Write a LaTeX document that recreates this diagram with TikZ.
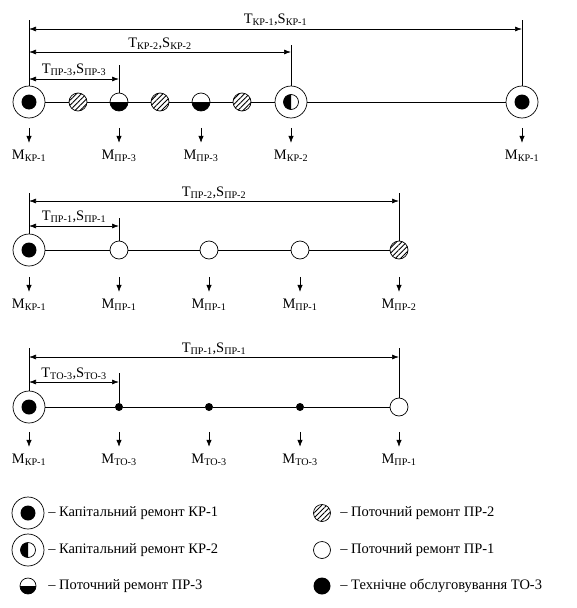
\documentclass[tikz,border=0pt]{standalone}
\usepackage{fontspec}
\setmainfont{Liberation Serif}
\usetikzlibrary{arrows.meta, patterns.meta}

\tikzstyle{kapone} = [circle, draw, fill=white, minimum size=32pt, inner sep=0pt,
path picture={\fill[black] (path picture bounding box.center) circle (7.5pt);}]
\tikzstyle{kaptwo} = [circle, draw, fill=white, minimum size=32pt, inner sep=0pt,
path picture={\draw (path picture bounding box.center) circle (7.5pt);
\fill[black] (path picture bounding box.center) ++(0,7.5pt) arc (90:270:7.5pt) -- cycle;}]
\tikzstyle{potthree} = [circle, draw, fill=white, minimum size=18pt, inner sep=0pt,
path picture={\fill[black] (path picture bounding box.west) rectangle (path picture bounding box.south east);}]
\tikzstyle{pottwo} = [circle, draw, minimum size=18pt, inner sep=0pt,
preaction={fill=white},
pattern={Lines[angle=45,distance=3.6pt,line width=0.9pt]}]
\tikzstyle{potone} = [circle, draw, fill=white, minimum size=18pt, inner sep=0pt]
\tikzstyle{tothree} = [circle, fill=black, minimum size=8pt, inner sep=0pt]
\tikzstyle{dimarrow} = [{Latex[length=7pt,width=5pt]}-{Latex[length=7pt,width=5pt]}]
\tikzstyle{downarrow} = [-{Latex[length=7pt,width=5.5pt]}]
\tikzstyle{lbl} = [inner sep=1pt, font=\fontsize{14.5}{16}\selectfont]

\begin{document}
\begin{tikzpicture}[x=1pt, y=1pt, line width=0.7pt]
\useasboundingbox (0,0) rectangle (577,-608);

% first line: KR-1 ... KR-2 ... KR-1
\node (a1) [kapone] at (29,-102) {};
\node (a2) [pottwo] at (78,-102) {};
\node (a3) [potthree] at (119,-102) {};
\node (a4) [pottwo] at (160,-102) {};
\node (a5) [potthree] at (201,-102) {};
\node (a6) [pottwo] at (242,-102) {};
\node (a7) [kaptwo] at (291,-102) {};
\node (a8) [kapone] at (522,-102) {};
\foreach \i [count=\j from 2] in {1,...,7}
  \draw (a\i) -- (a\j);

\coordinate (ta1) at (29,-20);
\coordinate (ta3) at (119,-65);
\coordinate (ta7) at (291,-45);
\coordinate (ta8) at (522,-20);
\draw (a1) -- (ta1);
\draw (a3) -- (ta3);
\draw (a7) -- (ta7);
\draw (a8) -- (ta8);

\coordinate (da1) at (29,-29);  \coordinate (da8) at (522,-29);
\coordinate (db1) at (29,-52);  \coordinate (db7) at (291,-52);
\coordinate (dc1) at (29,-79);  \coordinate (dc3) at (119,-79);
\draw [dimarrow] (da1) -- node[lbl, above=2pt] (la1) {T\textsubscript{КР-1},S\textsubscript{КР-1}} (da8);
\draw [dimarrow] (db1) -- node[lbl, above=1pt] (la2) {T\textsubscript{КР-2},S\textsubscript{КР-2}} (db7);
\draw [dimarrow] (dc1) -- node[lbl, above=2pt] (la3) {T\textsubscript{ПР-3},S\textsubscript{ПР-3}} (dc3);

\foreach \x/\n/\t in {29/1/КР-1, 119/3/ПР-3, 201/5/ПР-3, 291/7/КР-2, 522/8/КР-1} {
  \node (ma\n) [lbl] at (\x,-156) {M\textsubscript{\t}};
  \draw [downarrow] ([yshift=21pt]ma\n.north) -- ([yshift=6pt]ma\n.north);
}

% second line: KR-1 ... PR-1 ... PR-2
\node (b1) [kapone] at (29,-250) {};
\node (b2) [potone] at (119,-250) {};
\node (b3) [potone] at (209,-250) {};
\node (b4) [potone] at (300,-250) {};
\node (b5) [pottwo] at (399,-250) {};
\foreach \i [count=\j from 2] in {1,...,4}
  \draw (b\i) -- (b\j);

\coordinate (tb1) at (29,-193);
\coordinate (tb2) at (119,-218);
\coordinate (tb5) at (399,-193);
\draw (b1) -- (tb1);
\draw (b2) -- (tb2);
\draw (b5) -- (tb5);

\coordinate (ea1) at (29,-201);  \coordinate (ea5) at (399,-201);
\coordinate (eb1) at (29,-226);  \coordinate (eb2) at (119,-226);
\draw [dimarrow] (ea1) -- node[lbl, above=1pt] (lb1) {T\textsubscript{ПР-2},S\textsubscript{ПР-2}} (ea5);
\draw [dimarrow] (eb1) -- node[lbl, above=2pt] (lb2) {T\textsubscript{ПР-1},S\textsubscript{ПР-1}} (eb2);

\foreach \x/\n/\t in {29/1/КР-1, 119/2/ПР-1, 209/3/ПР-1, 300/4/ПР-1, 399/5/ПР-2} {
  \node (mb\n) [lbl] at (\x,-305) {M\textsubscript{\t}};
  \draw [downarrow] ([yshift=21pt]mb\n.north) -- ([yshift=6pt]mb\n.north);
}

% third line: KR-1 ... TO-3 ... PR-1
\node (c1) [kapone] at (29,-407) {};
\node (c2) [tothree] at (119,-407) {};
\node (c3) [tothree] at (209,-407) {};
\node (c4) [tothree] at (300,-407) {};
\node (c5) [potone] at (399,-407) {};
\foreach \i [count=\j from 2] in {1,...,4}
  \draw (c\i) -- (c\j);

\coordinate (tc1) at (29,-348);
\coordinate (tc2) at (119,-373);
\coordinate (tc5) at (399,-348);
\draw (c1) -- (tc1);
\draw (c2) -- (tc2);
\draw (c5) -- (tc5);

\coordinate (fa1) at (29,-357);  \coordinate (fa5) at (399,-357);
\coordinate (fb1) at (29,-382);  \coordinate (fb2) at (119,-382);
\draw [dimarrow] (fa1) -- node[lbl, above=1pt] (lc1) {T\textsubscript{ПР-1},S\textsubscript{ПР-1}} (fa5);
\draw [dimarrow] (fb1) -- node[lbl, above=1pt] (lc2) {T\textsubscript{ТО-3},S\textsubscript{ТО-3}} (fb2);

\foreach \x/\n/\t in {29/1/КР-1, 119/2/ТО-3, 209/3/ТО-3, 300/4/ТО-3, 399/5/ПР-1} {
  \node (mc\n) [lbl] at (\x,-460) {M\textsubscript{\t}};
  \draw [downarrow] ([yshift=21pt]mc\n.north) -- ([yshift=6pt]mc\n.north);
}

% legend
\node (g1) [kapone] at (28,-513) {};
\node (g2) [kaptwo] at (28,-550) {};
\node (g3) [potthree, minimum size=16pt] at (28,-586) {};
\node (g4) [pottwo, minimum size=17pt] at (322,-513) {};
\node (g5) [potone, minimum size=17pt] at (322,-550) {};
\node (g6) [tothree, minimum size=17pt] at (322,-586) {};
\node (g1t) [lbl, anchor=west] at (47,-513) {– Капітальний ремонт КР-1};
\node (g2t) [lbl, anchor=west] at (47,-550) {– Капітальний ремонт КР-2};
\node (g3t) [lbl, anchor=west] at (47,-586) {– Поточний ремонт ПР-3};
\node (g4t) [lbl, anchor=west] at (339,-513) {– Поточний ремонт ПР-2};
\node (g5t) [lbl, anchor=west] at (339,-550) {– Поточний ремонт ПР-1};
\node (g6t) [lbl, anchor=west] at (339,-586) {– Технічне обслуговування ТО-3};

\end{tikzpicture}
\end{document}
